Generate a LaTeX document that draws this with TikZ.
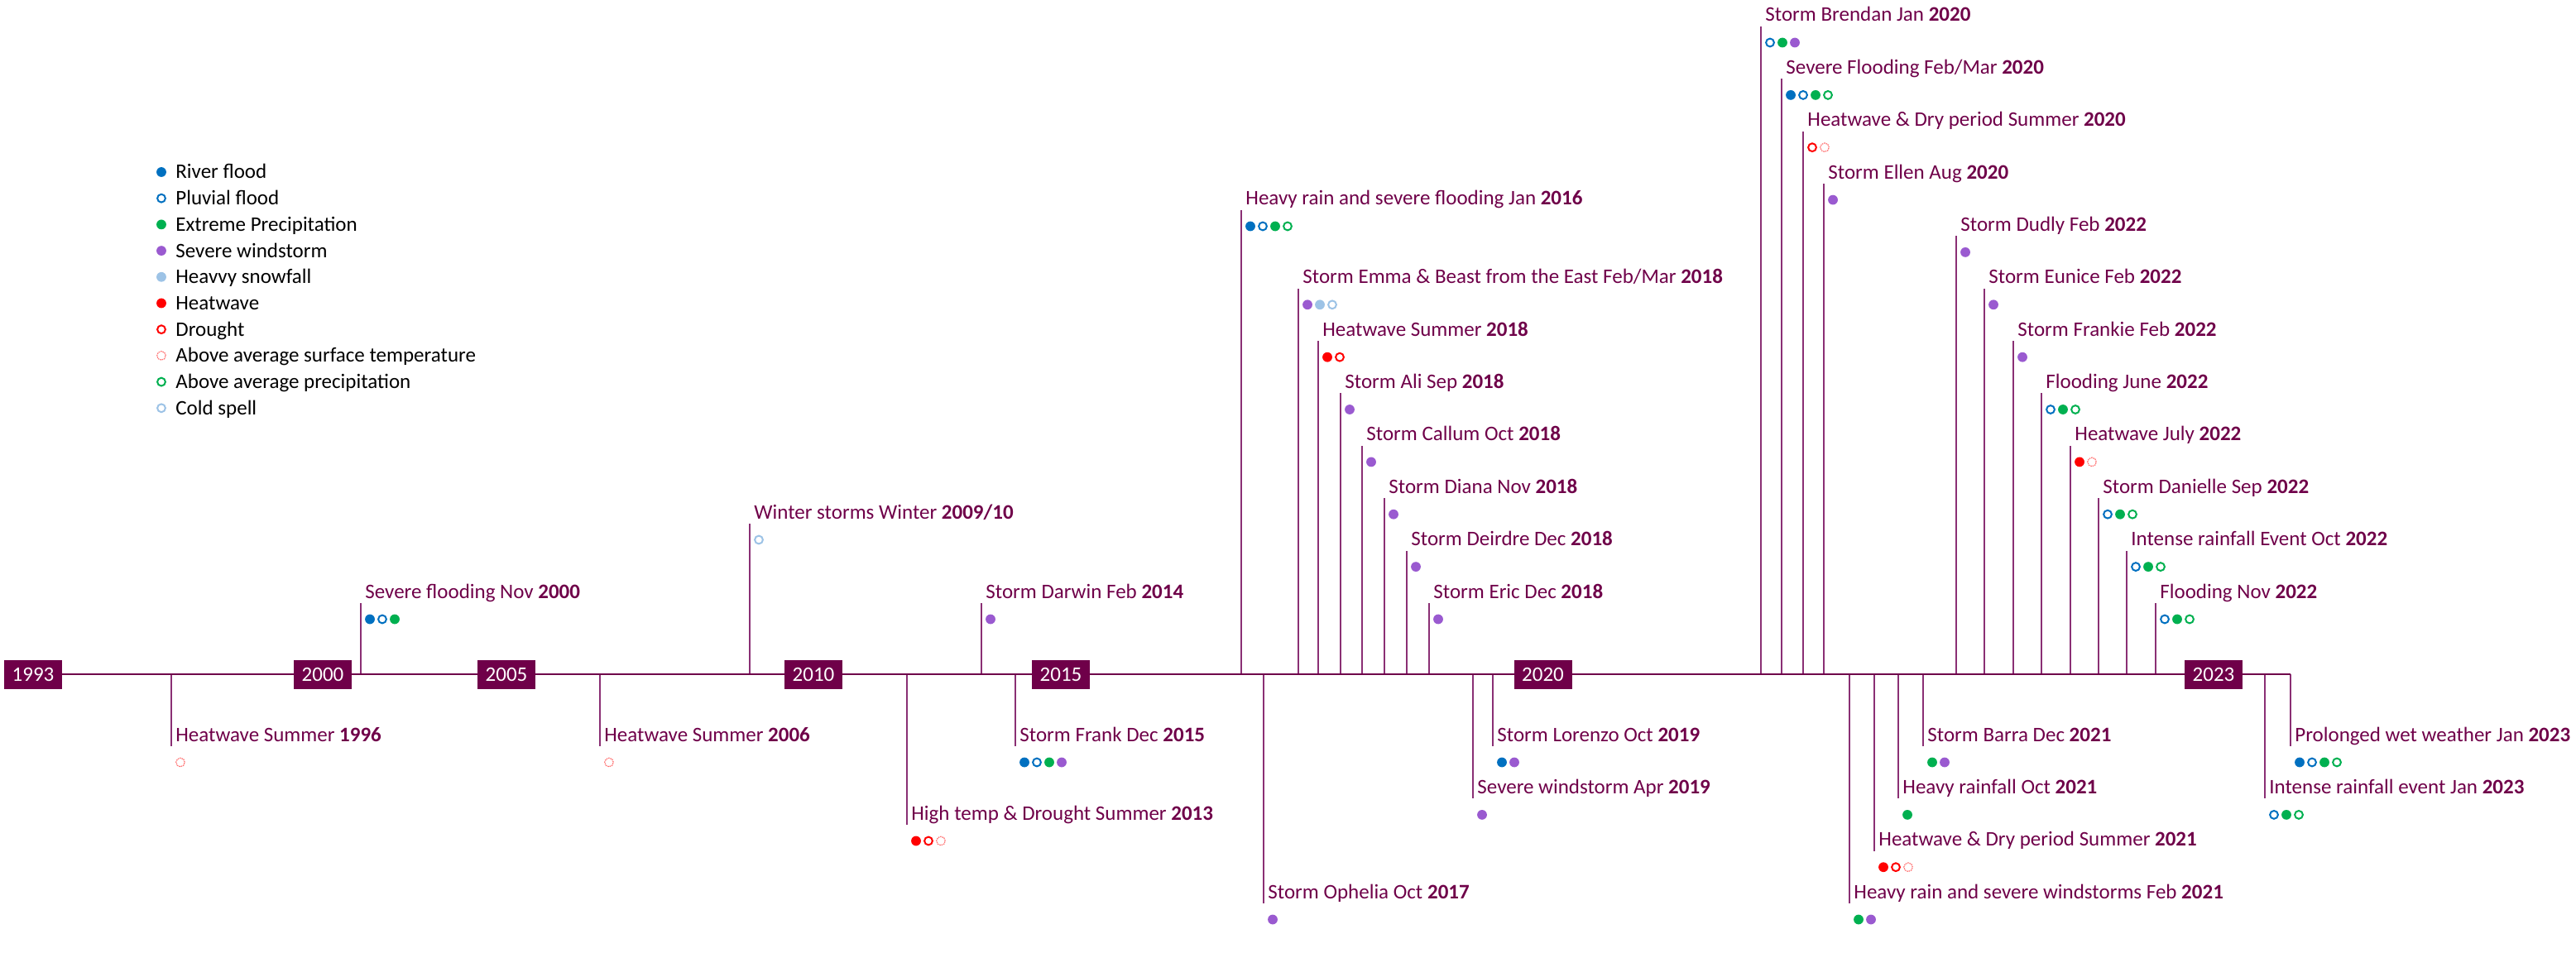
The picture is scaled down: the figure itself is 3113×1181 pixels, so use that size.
\documentclass[tikz,border=0pt]{standalone}
\usepackage{fontspec}
\setmainfont{Carlito}
\definecolor{plum}{HTML}{6F0049}
\definecolor{tickc}{HTML}{8A2F74}
\definecolor{cBlue}{HTML}{0070C0}
\definecolor{cGreen}{HTML}{00B050}
\definecolor{cPurple}{HTML}{9A5AD0}
\definecolor{cLight}{HTML}{9DC3E6}
\definecolor{cRed}{HTML}{FF0000}
\definecolor{cPink}{HTML}{FF7070}
\tikzset{
  fdot/.style={circle, inner sep=0pt, minimum size=5.9pt, draw=none},
  odot/.style={circle, inner sep=0pt, minimum size=4.9pt, line width=1pt, fill=none},
  dRF/.style={fdot, fill=cBlue},
  dPF/.style={odot, draw=cBlue},
  dEP/.style={fdot, fill=cGreen},
  dSW/.style={fdot, fill=cPurple},
  dHS/.style={fdot, fill=cLight},
  dHW/.style={fdot, fill=cRed},
  dDR/.style={odot, draw=cRed},
  dAT/.style={circle, inner sep=0pt, minimum size=5.3pt, line width=0.6pt, draw=cPink, dash pattern=on 0.8pt off 0.45pt},
  dAP/.style={odot, draw=cGreen},
  dCS/.style={odot, draw=cLight},
  lbl/.style={anchor=base west, inner sep=0pt, text=plum, font=\fontsize{12.5}{15}\selectfont},
  legtxt/.style={anchor=base west, inner sep=0pt, text=black, font=\fontsize{12.5}{15}\selectfont},
  yearbox/.style={fill=plum, text=white, minimum width=35pt, minimum height=17.5pt, inner sep=0pt, font=\fontsize{12.5}{14}\selectfont},
  ticklink/.style={draw=tickc, line width=0.9pt},
  axisline/.style={draw=plum, line width=1.1pt},
}
\newcommand\evt[5]{%
  \coordinate (#1a) at (#2,815);
  \coordinate (#1b) at (#2,#3+6);
  \draw[ticklink] (#1a) -- (#1b);
  \node[lbl] (#1l) at (#2+5,#3) {#4};
  \foreach \s [count=\i] in {#5} {\node[\s] (#1d\i) at ({#2+11+15*(\i-1)},#3+25.5) {};}
}
\newcommand\legitem[3]{%
  \node[#2] (leg#1d) at (195,{208+31.7*(#1-1)}) {};
  \node[legtxt] (leg#1t) at (212,{216+31.7*(#1-1)}) {#3};
}
\begin{document}
\begin{tikzpicture}[x=0.5pt,y=-0.5pt]
\useasboundingbox (0,0) rectangle (3113,1181);
% legend
\legitem{1}{dRF}{River flood}
\legitem{2}{dPF}{Pluvial flood}
\legitem{3}{dEP}{Extreme Precipitation}
\legitem{4}{dSW}{Severe windstorm}
\legitem{5}{dHS}{Heavvy snowfall}
\legitem{6}{dHW}{Heatwave}
\legitem{7}{dDR}{Drought}
\legitem{8}{dAT}{Above average surface temperature}
\legitem{9}{dAP}{Above average precipitation}
\legitem{10}{dCS}{Cold spell}
% events above
\evt{ea}{436}{723}{Severe flooding Nov \textbf{2000}}{dRF,dPF,dEP}
\evt{eb}{906}{627}{Winter storms Winter \textbf{2009/10}}{dCS}
\evt{ec}{1186}{723}{Storm Darwin Feb \textbf{2014}}{dSW}
\evt{ed}{1500}{248}{Heavy rain and severe flooding Jan \textbf{2016}}{dRF,dPF,dEP,dAP}
\evt{ee}{1569}{342.8}{Storm Emma \& Beast from the East Feb/Mar \textbf{2018}}{dSW,dHS,dCS}
\evt{ef}{1593}{406.2}{Heatwave Summer \textbf{2018}}{dHW,dDR}
\evt{eg}{1620}{469.5}{Storm Ali Sep \textbf{2018}}{dSW}
\evt{eh}{1646}{532.9}{Storm Callum Oct \textbf{2018}}{dSW}
\evt{ei}{1673}{596.2}{Storm Diana Nov \textbf{2018}}{dSW}
\evt{ej}{1700}{659.6}{Storm Deirdre Dec \textbf{2018}}{dSW}
\evt{ek}{1727}{723}{Storm Eric Dec \textbf{2018}}{dSW}
\evt{el}{2128}{26}{Storm Brendan Jan \textbf{2020}}{dPF,dEP,dSW}
\evt{em}{2153}{89.4}{Severe Flooding Feb/Mar \textbf{2020}}{dRF,dPF,dEP,dAP}
\evt{en}{2179}{152.7}{Heatwave \& Dry period Summer \textbf{2020}}{dDR,dAT}
\evt{eo}{2204}{216.1}{Storm Ellen Aug \textbf{2020}}{dSW}
\evt{ep}{2364}{279.4}{Storm Dudly Feb \textbf{2022}}{dSW}
\evt{eq}{2398}{342.8}{Storm Eunice Feb \textbf{2022}}{dSW}
\evt{er}{2433}{406.2}{Storm Frankie Feb \textbf{2022}}{dSW}
\evt{es}{2467}{469.5}{Flooding June \textbf{2022}}{dPF,dEP,dAP}
\evt{et}{2502}{532.9}{Heatwave July \textbf{2022}}{dHW,dAT}
\evt{eu}{2536}{596.2}{Storm Danielle Sep \textbf{2022}}{dPF,dEP,dAP}
\evt{ev}{2570}{659.6}{Intense rainfall Event Oct \textbf{2022}}{dPF,dEP,dAP}
\evt{ew}{2605}{723}{Flooding Nov \textbf{2022}}{dPF,dEP,dAP}
% events below
\evt{ba}{207}{896}{Heatwave Summer \textbf{1996}}{dAT}
\evt{bb}{725}{896}{Heatwave Summer \textbf{2006}}{dAT}
\evt{bc}{1096}{991}{High temp \& Drought Summer \textbf{2013}}{dHW,dDR,dAT}
\evt{bd}{1227}{896}{Storm Frank Dec \textbf{2015}}{dRF,dPF,dEP,dSW}
\evt{be}{1527}{1086}{Storm Ophelia Oct \textbf{2017}}{dSW}
\evt{bf}{1780}{959.4}{Severe windstorm Apr \textbf{2019}}{dSW}
\evt{bg}{1804}{896}{Storm Lorenzo Oct \textbf{2019}}{dRF,dSW}
\evt{bh}{2235}{1086}{Heavy rain and severe windstorms Feb \textbf{2021}}{dEP,dSW}
\evt{bi}{2265}{1022.7}{Heatwave \& Dry period Summer \textbf{2021}}{dHW,dDR,dAT}
\evt{bj}{2294}{959.4}{Heavy rainfall Oct \textbf{2021}}{dEP}
\evt{bk}{2324}{896}{Storm Barra Dec \textbf{2021}}{dEP,dSW}
\evt{bl}{2737}{959.4}{Intense rainfall event Jan \textbf{2023}}{dPF,dEP,dAP}
\evt{bm}{2768}{896}{Prolonged wet weather Jan \textbf{2023}}{dRF,dPF,dEP,dAP}
% axis
\coordinate (axL) at (40,815);
\draw[axisline] (axL) -- (bma);
% year boxes
\node[yearbox] (y1993) at (40,815.5) {1993};
\node[yearbox] (y2000) at (390,815.5) {2000};
\node[yearbox] (y2005) at (612,815.5) {2005};
\node[yearbox] (y2010) at (983,815.5) {2010};
\node[yearbox] (y2015) at (1282,815.5) {2015};
\node[yearbox] (y2020) at (1864.5,815.5) {2020};
\node[yearbox] (y2023) at (2675,815.5) {2023};
\end{tikzpicture}
\end{document}
